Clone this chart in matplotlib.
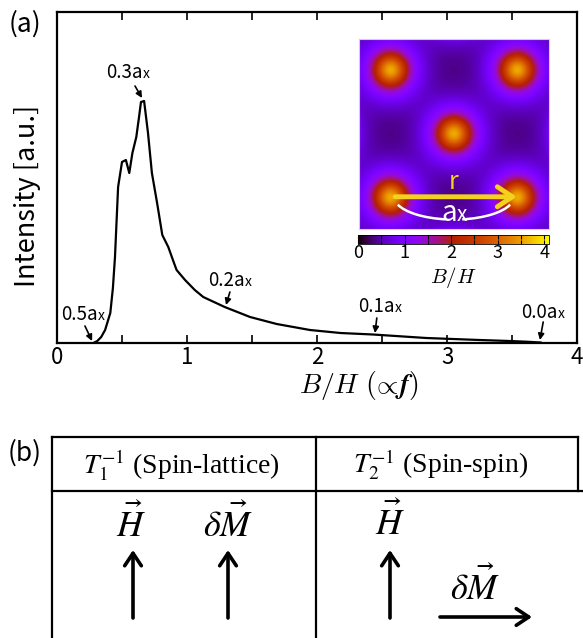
import numpy as np
import matplotlib
matplotlib.use("Agg")
import matplotlib.pyplot as plt
from matplotlib.offsetbox import TextArea, HPacker, AnnotationBbox
from matplotlib.patches import Arc
from matplotlib.ticker import MultipleLocator

# ---------------- data ----------------
field_ratio = [0.28, 0.31, 0.34, 0.37, 0.41, 0.43, 0.446, 0.47, 0.50, 0.53,
               0.556, 0.58, 0.61, 0.63, 0.646, 0.67, 0.70, 0.73, 0.77, 0.81,
               0.856, 0.90, 0.92, 0.985, 1.06, 1.125, 1.29, 1.485, 1.69, 1.946,
               2.18, 2.43, 2.84, 3.25, 3.48, 3.61, 3.72]
intensity = [0, 2, 6, 13, 30, 55, 86, 156, 181, 183,
             170, 190, 206, 225, 241, 242, 210, 170, 140, 108,
             96, 80, 73, 63, 53, 46, 36, 26, 19, 13,
             10, 8.5, 5, 3, 2, 1.3, 0.5]
peak_labels = ["0.5a", "0.3a", "0.2a", "0.1a", "0.0a"]
x_ticks = [0, 1, 2, 3, 4]
cbar_ticks = [0, 1, 2, 3, 4]
vortex_x = [1/6, 5/6, 1/2, 1/6, 5/6]
vortex_y = [1/6, 1/6, 1/2, 5/6, 5/6]
headers = [r"$T_{\mathit{1}}^{\mathit{-1}}$ (Spin-lattice)",
           r"$T_{\mathit{2}}^{\mathit{-1}}$ (Spin-spin)"]

SANS = ["Noto Sans CJK JP", "DejaVu Sans"]
plt.rcParams["font.family"] = SANS

W, H = 583, 638
fig = plt.figure(figsize=(W / 100, H / 100), dpi=100)

def fx(px):
    return px / W

def fy(py):
    return 1 - py / H

# ---------------- panel (a) ----------------
ax = fig.add_axes([fx(57), fy(343), fx(577) - fx(57), fy(12) - fy(343)])
ax.plot(field_ratio, intensity, color="k", lw=1.6, zorder=3)
ax.set_xlim(0, 4)
ax.set_ylim(0, 331)
ax.set_xticks(x_ticks)
ax.xaxis.set_minor_locator(MultipleLocator(0.5))
ax.set_yticks([])
ax.tick_params(axis="x", which="both", direction="in", top=True, bottom=True,
               length=6, width=1.2, labelsize=16, pad=2)
for s in ax.spines.values():
    s.set_linewidth(1.6)

def ax_label(axis, text, xy, size, xsize, color, coords="data"):
    ta = TextArea(text, textprops=dict(size=size, color=color, family=SANS))
    tb = TextArea("x", textprops=dict(size=xsize, color=color, family=SANS))
    box = HPacker(children=[ta, tb], align="baseline", pad=0, sep=0)
    ab = AnnotationBbox(box, xy, xycoords=coords, frameon=False,
                        box_alignment=(0.5, 0.5), pad=0)
    axis.add_artist(ab)

label_pos = [(0.20, 29), (0.546, 271), (1.33, 62), (2.485, 36), (3.74, 31)]
arrow_tail = [(0.215, 17), (0.60, 257), (1.33, 51), (2.46, 25), (3.74, 21)]
arrow_head = [(0.27, 2), (0.654, 245), (1.30, 38), (2.446, 10), (3.715, 3)]
for lab, pos, t, h in zip(peak_labels, label_pos, arrow_tail, arrow_head):
    ax_label(ax, lab, pos, 13.5, 10, "k")
    ax.annotate("", xy=h, xytext=t,
                arrowprops=dict(arrowstyle="-|>", lw=1.2, color="k",
                                mutation_scale=9, shrinkA=0, shrinkB=0))

fig.text(fx(28), fy(196), "Intensity [a.u.]", rotation=90, size=19.5,
         ha="center", va="center")
fig.text(fx(359), fy(385), r"$B/H\ (\!{\propto}\!\boldsymbol{f})$", size=20,
         ha="center", va="center", math_fontfamily="cm")
fig.text(fx(25), fy(24), "(a)", size=19, ha="center", va="center")

# ---------------- inset: field map ----------------
axin = fig.add_axes([fx(359), fy(229), fx(549) - fx(359), fy(38) - fy(229)])
n = 240
g = (np.arange(n) + 0.5) / n
X, Y = np.meshgrid(g, g)
period = vortex_x[1] - vortex_x[0]
k0 = 2 * np.pi / period
lam, xi = 0.1, 0.046
B = np.zeros_like(X)
for p in range(-14, 15):
    for q in range(-14, 15):
        if (p + q) % 2:
            continue
        Gx, Gy = k0 * p, k0 * q
        G2 = Gx * Gx + Gy * Gy
        B += np.exp(-xi * xi * G2 / 2) / (1 + lam * lam * G2) * \
            np.cos(Gx * (X - vortex_x[0]) + Gy * (Y - vortex_y[0]))
im = axin.imshow(B, cmap="gnuplot", vmin=0, vmax=4.1, origin="lower",
                 extent=[0, 1, 0, 1], interpolation="bilinear")
axin.set_xticks([])
axin.set_yticks([])
for s in axin.spines.values():
    s.set_color("#d8c8f0")
    s.set_linewidth(0.8)

yellow = "#f2d21c"
axin.annotate("", xy=(0.83, 0.167), xytext=(0.19, 0.167),
              arrowprops=dict(arrowstyle="->,head_length=0.6,head_width=0.4",
                              lw=3.5, color=yellow, mutation_scale=18,
                              shrinkA=0, shrinkB=0))
axin.text(0.5, 0.245, "r", color=yellow, size=18, ha="center", va="center")
axin.add_patch(Arc((0.5, 0.167), 0.63, 0.24, theta1=188, theta2=250,
                   color="white", lw=1.8))
axin.add_patch(Arc((0.5, 0.167), 0.63, 0.24, theta1=290, theta2=352,
                   color="white", lw=1.8))
ax_label(axin, "a", (0.5, 0.08), 20, 15, "white")

cax = fig.add_axes([fx(358), fy(244), fx(549) - fx(358), fy(235) - fy(244)])
cb = fig.colorbar(im, cax=cax, orientation="horizontal", ticks=cbar_ticks)
cax.xaxis.set_minor_locator(MultipleLocator(0.5))
cax.tick_params(which="both", direction="in", top=True, bottom=True,
                length=3, width=0.8, color="k", labelsize=13, pad=0)
cb.outline.set_linewidth(0.6)
cax.set_xlabel(r"$B/H$", size=15, math_fontfamily="cm", labelpad=2)

# ---------------- panel (b) ----------------
ob = fig.add_axes([0, 0, 1, 1])
ob.set_xlim(0, W)
ob.set_ylim(H, 0)
ob.axis("off")
lw = 1.6
ob.plot([52, 578], [437, 437], color="k", lw=lw)
ob.plot([52, 583], [491, 491], color="k", lw=lw)
ob.plot([52, 52], [437, 640], color="k", lw=lw)
ob.plot([316, 316], [437, 640], color="k", lw=lw)
ob.plot([578, 578], [437, 491], color="k", lw=lw)
fig.text(fx(25), fy(453), "(b)", size=19, ha="center", va="center")

ob.text(181, 465, headers[0], family="Liberation Serif", math_fontfamily="stix",
        size=20, ha="center", va="center")
ob.text(441, 465, headers[1], family="Liberation Serif", math_fontfamily="stix",
        size=20, ha="center", va="center")

vec_kw = dict(math_fontfamily="stix", size=26, ha="center", va="center")
ob.text(131, 525, r"$\vec{H}$", **vec_kw)
ob.text(228, 525, r"$\delta\vec{M}$", **vec_kw)
ob.text(390, 523, r"$\vec{H}$", **vec_kw)
ob.text(475, 588, r"$\delta\vec{M}$", **vec_kw)

arr = dict(arrowstyle="->,head_length=0.45,head_width=0.3", lw=2.6, color="k",
           mutation_scale=20, shrinkA=0, shrinkB=0)
ob.annotate("", xy=(133, 550), xytext=(133, 618), arrowprops=arr)
ob.annotate("", xy=(228, 550), xytext=(228, 618), arrowprops=arr)
ob.annotate("", xy=(390, 550), xytext=(390, 618), arrowprops=arr)
ob.annotate("", xy=(532, 617), xytext=(440, 617), arrowprops=arr)

fig.savefig("out.png", dpi=100)
